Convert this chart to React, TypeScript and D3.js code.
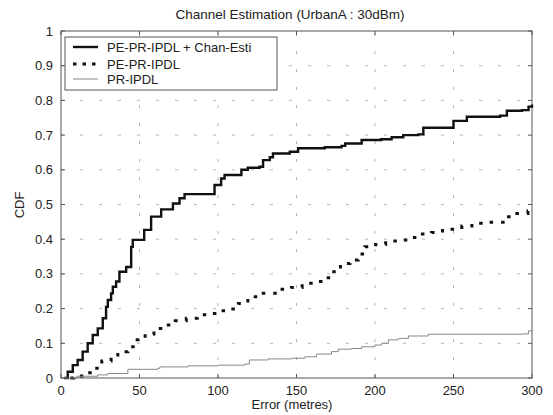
import React from "react";
import * as d3 from "d3";

const title = "Channel Estimation (UrbanA : 30dBm)";
const xLabel = "Error (metres)";
const yLabel = "CDF";
const xTicks = [0, 50, 100, 150, 200, 250, 300];
const yTicks = [0, 0.1, 0.2, 0.3, 0.4, 0.5, 0.6, 0.7, 0.8, 0.9, 1];
const seriesNames = ["PE-PR-IPDL + Chan-Esti", "PE-PR-IPDL", "PR-IPDL"];

// Series 1: PE-PR-IPDL + Chan-Esti
const s1x = [2, 4.3, 7.5, 10.6, 13.8, 17, 20.2, 23.4, 26.6, 28.7, 29.8, 31.9, 33, 35.1, 37.2, 41.5, 44.7, 45.7, 49, 53, 57.4, 62.8, 63.8, 69.5, 71.3, 75.5, 78.7, 92.5, 97.8, 102, 104.2, 111.7, 114.9, 119, 126.5, 128.7, 133, 135, 145.7, 151, 168, 178.7, 181, 190.4, 191.5, 204, 210.6, 218, 227.6, 230.8, 245.7, 250, 258.5, 279.7, 284, 293.6, 297.8, 300];
const s1y = [0, 0.018, 0.037, 0.052, 0.076, 0.1, 0.124, 0.143, 0.172, 0.205, 0.225, 0.244, 0.263, 0.278, 0.306, 0.32, 0.378, 0.398, 0.398, 0.427, 0.465, 0.465, 0.486, 0.486, 0.503, 0.518, 0.53, 0.53, 0.556, 0.575, 0.585, 0.585, 0.6, 0.606, 0.609, 0.628, 0.636, 0.647, 0.652, 0.662, 0.665, 0.669, 0.676, 0.676, 0.686, 0.688, 0.694, 0.7, 0.702, 0.721, 0.721, 0.741, 0.753, 0.756, 0.77, 0.772, 0.782, 0.788];

// Series 2: PE-PR-IPDL
const s2x = [6, 8.1, 14.9, 20.9, 26, 31.9, 36.2, 42.6, 48.5, 53.6, 59.2, 66.4, 72.8, 79.8, 86.8, 93.6, 101, 108, 113, 119, 126.6, 139.3, 146.8, 153.6, 160.6, 167, 172.7, 178, 184, 189.3, 193.6, 200.4, 206.8, 214.9, 221.3, 228.7, 236, 243, 247.8, 255.3, 261.7, 269.5, 278.2, 283.3, 290.4, 297.4, 300];
const s2y = [0, 0.006, 0.015, 0.028, 0.049, 0.061, 0.076, 0.09, 0.11, 0.127, 0.143, 0.153, 0.165, 0.172, 0.182, 0.186, 0.194, 0.199, 0.215, 0.234, 0.244, 0.256, 0.261, 0.273, 0.278, 0.289, 0.306, 0.33, 0.34, 0.357, 0.378, 0.385, 0.395, 0.398, 0.405, 0.415, 0.419, 0.425, 0.429, 0.438, 0.446, 0.449, 0.449, 0.465, 0.474, 0.481, 0.483];

// Series 3: PR-IPDL
const s3x = [1, 10, 23.4, 29.8, 42.6, 61.7, 63, 80.8, 100, 117, 120, 131.9, 146.8, 155.3, 162.7, 172.3, 176.6, 185, 191.4, 200, 204.2, 208.5, 214.9, 221.3, 234, 250, 293.6, 297.8, 300];
const s3y = [0, 0.005, 0.009, 0.013, 0.025, 0.028, 0.032, 0.035, 0.037, 0.04, 0.052, 0.055, 0.057, 0.061, 0.069, 0.076, 0.083, 0.085, 0.09, 0.095, 0.1, 0.11, 0.114, 0.121, 0.126, 0.126, 0.127, 0.136, 0.14];

const W = 553;
const H = 415;
const font = "'Liberation Sans', Arial, Helvetica, sans-serif";

export default function App() {
  const x = d3.scaleLinear().domain([0, 300]).range([61, 532]);
  const y = d3.scaleLinear().domain([0, 1]).range([378, 31]);
  const line = d3
    .line<[number, number]>()
    .x((d) => x(d[0]))
    .y((d) => y(d[1]))
    .curve(d3.curveStepAfter);
  const zip = (a: number[], b: number[]) => a.map((v, i) => [v, b[i]] as [number, number]);
  const axisColor = "#555";
  const gridColor = "#b5b5b5";
  const [x0, x1] = x.range();
  const [y0, y1] = y.range();
  const legX = 65, legY = 37, legW = 212, legH = 53;
  const legRows = [47, 64, 79];
  const styles = [
    { stroke: "#111", width: 2.4, dash: "none" },
    { stroke: "#111", width: 3, dash: "3.5,8" },
    { stroke: "#888", width: 1, dash: "none" },
  ];
  const data = [zip(s1x, s1y), zip(s2x, s2y), zip(s3x, s3y)];

  return (
    <svg width={W} height={H} style={{ display: "block", position: "absolute", left: 0, top: 0, background: "#fff" }} fontFamily={font}>
      <rect x={0} y={0} width={W} height={H} fill="#fff" />
      {xTicks.slice(1, -1).map((t) => (
        <line key={"gx" + t} x1={x(t)} x2={x(t)} y1={y0} y2={y1} stroke={gridColor} strokeWidth={1} strokeDasharray="3,15" />
      ))}
      {yTicks.slice(1, -1).map((t) => (
        <line key={"gy" + t} x1={x0} x2={x1} y1={y(t)} y2={y(t)} stroke={gridColor} strokeWidth={1} strokeDasharray="3,16" />
      ))}
      <rect x={x0} y={y1} width={x1 - x0} height={y0 - y1} fill="none" stroke={axisColor} strokeWidth={1} />
      {xTicks.map((t) => (
        <g key={"tx" + t}>
          <line x1={x(t)} x2={x(t)} y1={y0} y2={y0 - 4} stroke={axisColor} />
          <line x1={x(t)} x2={x(t)} y1={y1} y2={y1 + 4} stroke={axisColor} />
          <text x={x(t)} y={395} textAnchor="middle" fontSize={13} fill="#222">{t}</text>
        </g>
      ))}
      {yTicks.map((t) => (
        <g key={"ty" + t}>
          <line x1={x0} x2={x0 + 4} y1={y(t)} y2={y(t)} stroke={axisColor} />
          <line x1={x1} x2={x1 - 4} y1={y(t)} y2={y(t)} stroke={axisColor} />
          <text x={53} y={y(t) + 4.5} textAnchor="end" fontSize={13} fill="#222">{t}</text>
        </g>
      ))}
      {data.map((d, i) => (
        <path key={"s" + i} d={line(d) || ""} fill="none" stroke={styles[i].stroke} strokeWidth={styles[i].width} strokeDasharray={styles[i].dash} strokeLinejoin="miter" />
      ))}
      <rect x={legX} y={legY} width={legW} height={legH} fill="#fff" stroke={axisColor} strokeWidth={1} />
      {seriesNames.map((n, i) => (
        <g key={"l" + i}>
          <line x1={73} x2={98} y1={legRows[i]} y2={legRows[i]} stroke={styles[i].stroke} strokeWidth={styles[i].width} strokeDasharray={i === 1 ? "3.5,6" : "none"} />
          <text x={107} y={legRows[i] + 4.5} fontSize={13} fill="#222">{n}</text>
        </g>
      ))}
      <text x={290} y={19} textAnchor="middle" fontSize={13.5} fill="#222">{title}</text>
      <text x={292} y={409} textAnchor="middle" fontSize={13} fill="#222">{xLabel}</text>
      <text transform={`translate(24,205) rotate(-90)`} textAnchor="middle" fontSize={13} fill="#222">{yLabel}</text>
    </svg>
  );
}
